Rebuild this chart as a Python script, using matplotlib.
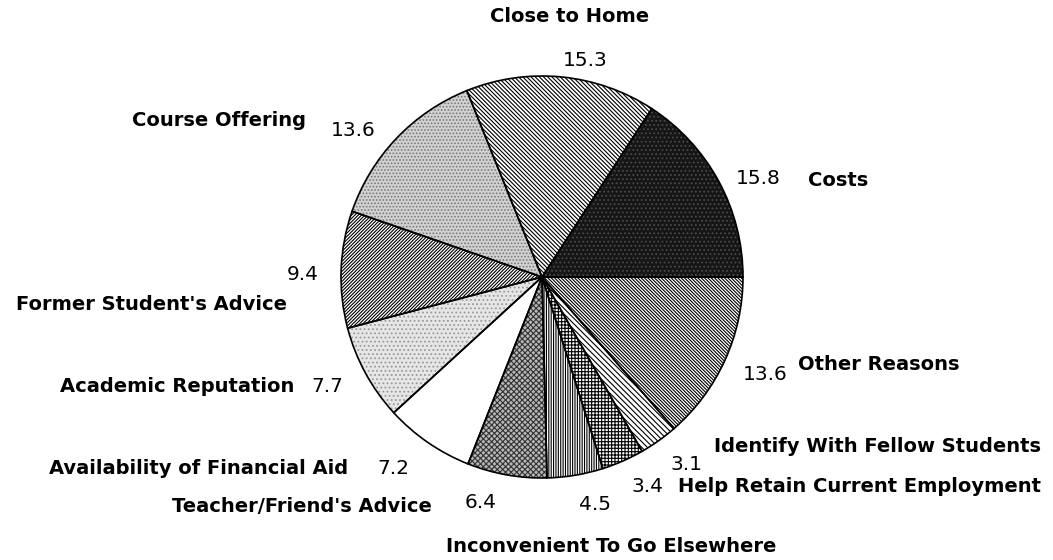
import matplotlib.pyplot as plt

# Reasons for choosing the college (percent of respondents)
reasons = ["Costs", "Close to Home", "Course Offering", "Former Student's Advice",
           "Academic Reputation", "Availability of Financial Aid", "Teacher/Friend's Advice",
           "Inconvenient To Go Elsewhere", "Help Retain Current Employment",
           "Identify With Fellow Students", "Other Reasons"]
percents = [15.8, 15.3, 13.6, 9.4, 7.7, 7.2, 6.4, 4.5, 3.4, 3.1, 13.6]

# fill styles per wedge: (face, hatch, hatch colour)
styles = [('#161616', '....', '#4a4a4a'),
          ('white', '\\' * 8, 'black'),
          ('#d2d2d2', '.....', '#777777'),
          ('white', '/' * 10, 'black'),
          ('#e6e6e6', '....', '#9a9a9a'),
          ('white', '', 'black'),
          ('#b8b8b8', 'xxxxxx', '#333333'),
          ('white', '|' * 7, 'black'),
          ('white', '+++++', 'black'),
          ('white', '\\' * 6, 'black'),
          ('white', '\\' * 10, 'black')]

# text centres in pixels (x, y from top)
name_pos = [(838, 180), (570, 16), (219, 120), (151, 304), (177, 386), (199, 468),
            (302, 507), (611, 546), (859, 486), (878, 446), (879, 364)]
value_pos = [(758, 179), (585, 61), (353, 130), (303, 275), (327, 386), (393, 468),
             (481, 503), (595, 505), (647, 486), (686, 464), (765, 375)]

W, H = 1053, 560
plt.rcParams['hatch.linewidth'] = 0.8
fig = plt.figure(figsize=(W / 100, H / 100), dpi=100)
ax = fig.add_axes([0, 0, 1, 1])

center = (542, H - 277)
radius = 201

wedges, _ = ax.pie(percents, startangle=0, counterclock=True, center=center,
                   radius=radius, frame=True)
for w, (fc, hatch, hc) in zip(wedges, styles):
    w.set_facecolor(fc)
    w.set_hatch(hatch)
    w.set_edgecolor(hc)
    w.set_linewidth(0)

outline, _ = ax.pie(percents, startangle=0, counterclock=True, center=center,
                    radius=radius, frame=True,
                    wedgeprops=dict(fill=False, edgecolor='black', linewidth=1.2))
ax.set_xlim(0, W)
ax.set_ylim(0, H)
ax.set_aspect('equal')
ax.axis('off')

for name, (x, y) in zip(reasons, name_pos):
    ax.text(x, H - y, name, ha='center', va='center', fontsize=14,
            fontweight='bold', family='DejaVu Sans')
for val, (x, y) in zip(percents, value_pos):
    ax.text(x, H - y, f"{val:.1f}", ha='center', va='center', fontsize=14.5,
            family='DejaVu Sans')

fig.savefig('out.png', dpi=100, facecolor='white')
